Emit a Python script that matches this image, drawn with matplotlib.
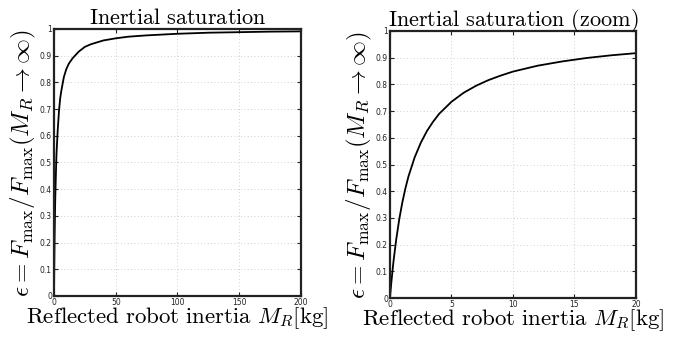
import matplotlib
matplotlib.use('Agg')
import matplotlib.pyplot as plt

# values
mass_full = [0, 0.25, 0.5, 1, 1.5, 2, 3, 4, 5, 6, 8, 10, 12, 15, 20, 25, 30, 40, 50, 60, 75, 100, 125, 150, 175, 200]
eps_full = [0, 0.12, 0.22, 0.36, 0.45, 0.53, 0.62, 0.69, 0.74, 0.77, 0.82, 0.85, 0.87, 0.89, 0.915, 0.933,
            0.943, 0.957, 0.965, 0.971, 0.976, 0.982, 0.986, 0.988, 0.990, 0.991]

mass_zoom = [0, 0.05, 0.1, 0.2, 0.3, 0.5, 0.75, 1, 1.25, 1.5, 2, 2.5, 3, 3.5, 4, 5, 6, 7, 8, 9, 10,
             12, 14, 16, 18, 20]
eps_zoom = [0, 0.027, 0.053, 0.10, 0.143, 0.217, 0.294, 0.357, 0.41, 0.455, 0.526, 0.581, 0.625, 0.660,
            0.690, 0.735, 0.769, 0.795, 0.816, 0.833, 0.848, 0.870, 0.886, 0.899, 0.909, 0.917]

plt.rcParams['mathtext.fontset'] = 'cm'
plt.rcParams['font.family'] = 'DejaVu Sans'

fig = plt.figure(figsize=(6.8, 3.38), dpi=100)
ax1 = fig.add_axes([0.0794, 0.1243, 0.3632, 0.79])
ax2 = fig.add_axes([0.5735, 0.1183, 0.3618, 0.79])

ylab = r'$\epsilon = F_{\max}/F_{\max}(M_R \rightarrow \infty)$'
xlab = r'$\mathrm{Reflected\ robot\ inertia}\ M_R[\mathrm{kg}]$'

panels = [
    (ax1, mass_full, eps_full, 200, [0, 50, 100, 150, 200], r'$\mathrm{Inertial\ saturation}$'),
    (ax2, mass_zoom, eps_zoom, 20, [0, 5, 10, 15, 20], r'$\mathrm{Inertial\ saturation\ (zoom)}$'),
]

for ax, xs, ys, xmax, xt, title in panels:
    ax.plot(xs, ys, color='black', lw=1.3)
    ax.set_xlim(0, xmax)
    ax.set_ylim(0, 1)
    ax.set_xticks(xt)
    ax.set_yticks([i / 10 for i in range(11)])
    ax.set_yticklabels(['0'] + [f'{i/10:g}' for i in range(1, 10)] + ['1'])
    ax.grid(True, linestyle=(0, (1, 3)), color='#c0c0c0', lw=0.6)
    ax.tick_params(direction='in', length=3, width=0.8, labelsize=5.5, pad=1.5,
                   top=True, right=True, colors='#222222')
    for s in ax.spines.values():
        s.set_linewidth(1.6)
        s.set_color('#222222')
    ax.set_title(title, fontsize=16, pad=3.5)
    ax.set_xlabel(xlab, fontsize=16.5, labelpad=-1)
    ax.set_ylabel(ylab, fontsize=18, labelpad=1)

plt.savefig('out.png', dpi=100)
